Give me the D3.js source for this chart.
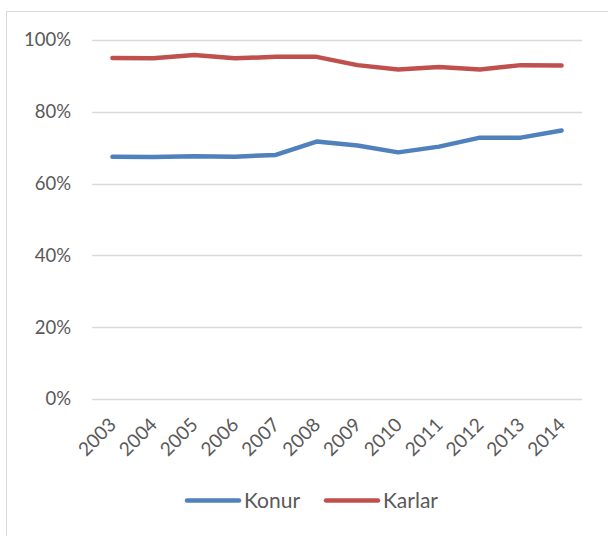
<!DOCTYPE html>
<html>
<head>
<meta charset="utf-8">
<script src="https://cdn.jsdelivr.net/npm/d3@7"></script>
<style>
  body { margin: 0; background: #fff; }
  text { font-family: Lato, "Open Sans", sans-serif; fill: #595959; }
</style>
</head>
<body>
<script>
var years = ["2003", "2004", "2005", "2006", "2007", "2008", "2009", "2010", "2011", "2012", "2013", "2014"];
var konur = [0.675, 0.674, 0.676, 0.675, 0.680, 0.717, 0.706, 0.687, 0.703, 0.728, 0.728, 0.748];
var karlar = [0.950, 0.949, 0.958, 0.949, 0.953, 0.953, 0.930, 0.918, 0.925, 0.918, 0.930, 0.929];
var yTicks = [0, 0.2, 0.4, 0.6, 0.8, 1];

var svg = d3.select("body").append("svg")
  .attr("width", 608)
  .attr("height", 536);

// chart border
svg.append("rect")
  .attr("x", 6.5)
  .attr("y", 11.5)
  .attr("width", 640)
  .attr("height", 600)
  .style("fill", "#fff")
  .style("stroke", "#d9d9d9")
  .style("stroke-width", 1);

var x = d3.scalePoint()
  .domain(years)
  .range([92, 582])
  .padding(0.5);

var y = d3.scaleLinear()
  .domain([0, 1])
  .range([399, 40]);

// gridlines
svg.append("g")
  .selectAll("line")
  .data(yTicks)
  .enter().append("line")
    .attr("x1", 92)
    .attr("x2", 582)
    .attr("y1", function(d) { return Math.round(y(d)) + 0.5; })
    .attr("y2", function(d) { return Math.round(y(d)) + 0.5; })
    .style("stroke", "#d9d9d9")
    .style("stroke-width", 1.3);

// y axis labels
var yAxis = d3.axisLeft(y)
  .tickValues(yTicks)
  .tickSize(0)
  .tickPadding(0)
  .tickFormat(d3.format(".0%"));

var gy = svg.append("g")
  .attr("transform", "translate(71,0)")
  .call(yAxis);
gy.select(".domain").remove();
gy.selectAll("text")
  .style("font-size", "18.5px")
  .style("font-family", "Lato, sans-serif")
  .attr("fill", "#595959");

// x axis labels
svg.append("g")
  .selectAll("text")
  .data(years)
  .enter().append("text")
    .attr("transform", function(d) { return "translate(" + (x(d) + 5) + ",426) rotate(-45)"; })
    .attr("text-anchor", "end")
    .style("font-size", "19px")
    .text(function(d) { return d; });

var line = d3.line()
  .x(function(d, i) { return x(years[i]); })
  .y(function(d) { return y(d); });

var series = [
  { name: "Konur", values: konur, color: "#4f81bd" },
  { name: "Karlar", values: karlar, color: "#c0504d" }
];

series.forEach(function(s) {
  svg.append("path")
    .datum(s.values)
    .attr("d", line)
    .style("fill", "none")
    .style("stroke", s.color)
    .style("stroke-width", 4.5)
    .style("stroke-linecap", "round")
    .style("stroke-linejoin", "round");
});

// legend
var legendX = [187, 326];
var lg = svg.append("g");
series.forEach(function(s, i) {
  lg.append("line")
    .attr("x1", legendX[i])
    .attr("x2", legendX[i] + 52)
    .attr("y1", 500.5)
    .attr("y2", 500.5)
    .style("stroke", s.color)
    .style("stroke-width", 4.5)
    .style("stroke-linecap", "round");
  lg.append("text")
    .attr("x", legendX[i] + 57)
    .attr("y", 500.5)
    .attr("dy", "0.36em")
    .style("font-size", "21px")
    .text(s.name);
});
</script>
</body>
</html>
